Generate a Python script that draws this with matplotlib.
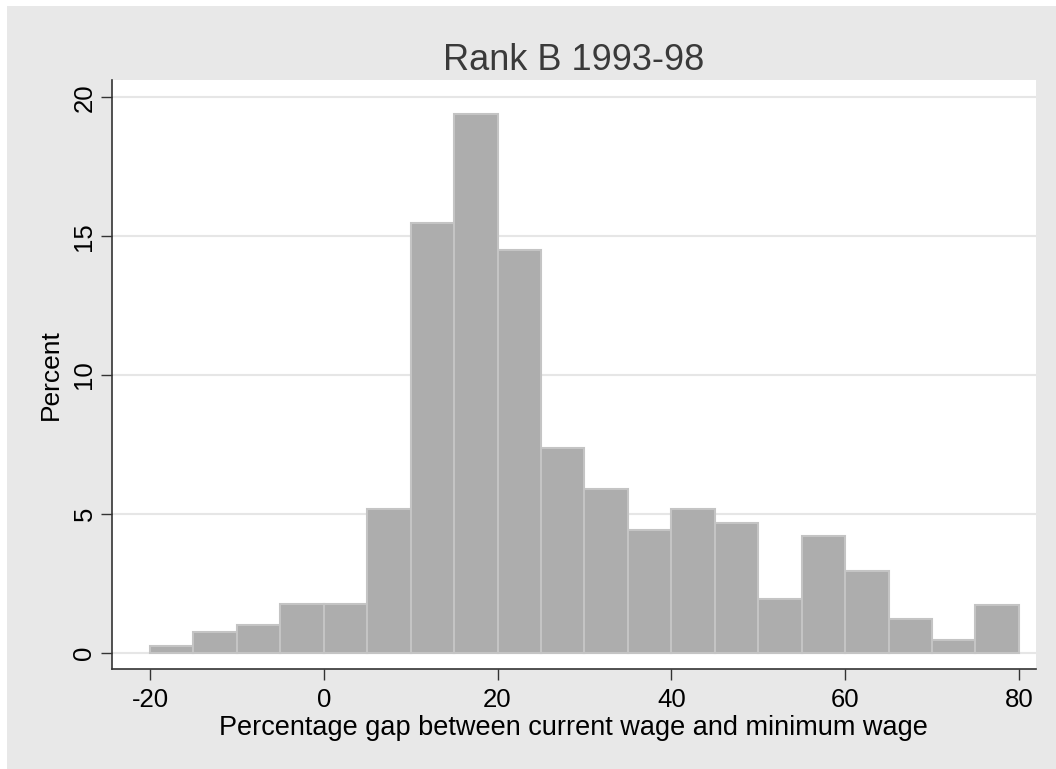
import numpy as np
import matplotlib
matplotlib.use('Agg')
import matplotlib.pyplot as plt
from matplotlib.patches import Rectangle

plt.rcParams['font.family'] = ['Liberation Sans', 'DejaVu Sans']
plt.rcParams['axes.unicode_minus'] = False

# histogram data: bins of width 5 starting at -20
bin_edges = [-20, -15, -10, -5, 0, 5, 10, 15, 20, 25, 30, 35, 40, 45, 50, 55, 60, 65, 70, 75, 80]
percent = [0.25, 0.75, 1.0, 1.75, 1.75, 5.17, 15.49, 19.41, 14.5, 7.37,
           5.9, 4.44, 5.17, 4.69, 1.94, 4.2, 2.95, 1.22, 0.47, 1.73]
xticks = [-20, 0, 20, 40, 60, 80]
yticks = [0, 5, 10, 15, 20]

fig = plt.figure(figsize=(10.56, 7.69), dpi=100, facecolor='white')
# light grey graph region, white strip only on left and top
fig.patches.append(Rectangle((7/1056, -0.1), 1.2, 1.1 - 6/769, transform=fig.transFigure,
                             facecolor='#e8e8e8', edgecolor='none', zorder=-10))

ax = fig.add_axes([0.1058, 0.130, 0.981 - 0.1058, 0.896 - 0.130])
ax.set_facecolor('white')

lefts = np.array(bin_edges[:-1])
widths = np.diff(bin_edges)
ax.bar(lefts, percent, width=widths, align='edge', color='#adadad',
       edgecolor='#c4c4c4', linewidth=1.5, zorder=3)

ax.set_xlim(-24.4, 81.96)
ax.set_ylim(-0.58, 20.62)
ax.set_xticks(xticks)
ax.set_yticks(yticks)
for y in yticks:
    ax.axhline(y, color='#e6e6e6', linewidth=1.5, zorder=1)

for s in ['top', 'right']:
    ax.spines[s].set_visible(False)
for s in ['left', 'bottom']:
    ax.spines[s].set_color('#333333')
    ax.spines[s].set_linewidth(1.2)

ax.tick_params(axis='both', direction='out', length=8, width=1, color='#333333',
               labelsize=18.5, labelcolor='black')
ax.tick_params(axis='x', pad=6)
ax.tick_params(axis='y', pad=3)
for lab in ax.get_yticklabels():
    lab.set_rotation(90)
    lab.set_va('center')

ax.set_xlabel('Percentage gap between current wage and minimum wage', fontsize=19.5, labelpad=2)
ax.set_ylabel('Percent', fontsize=19, labelpad=7)
ax.set_title('Rank B 1993-98', fontsize=26, color='#3a3a3a', pad=7)

fig.savefig('out.png', dpi=100, facecolor=fig.get_facecolor())
